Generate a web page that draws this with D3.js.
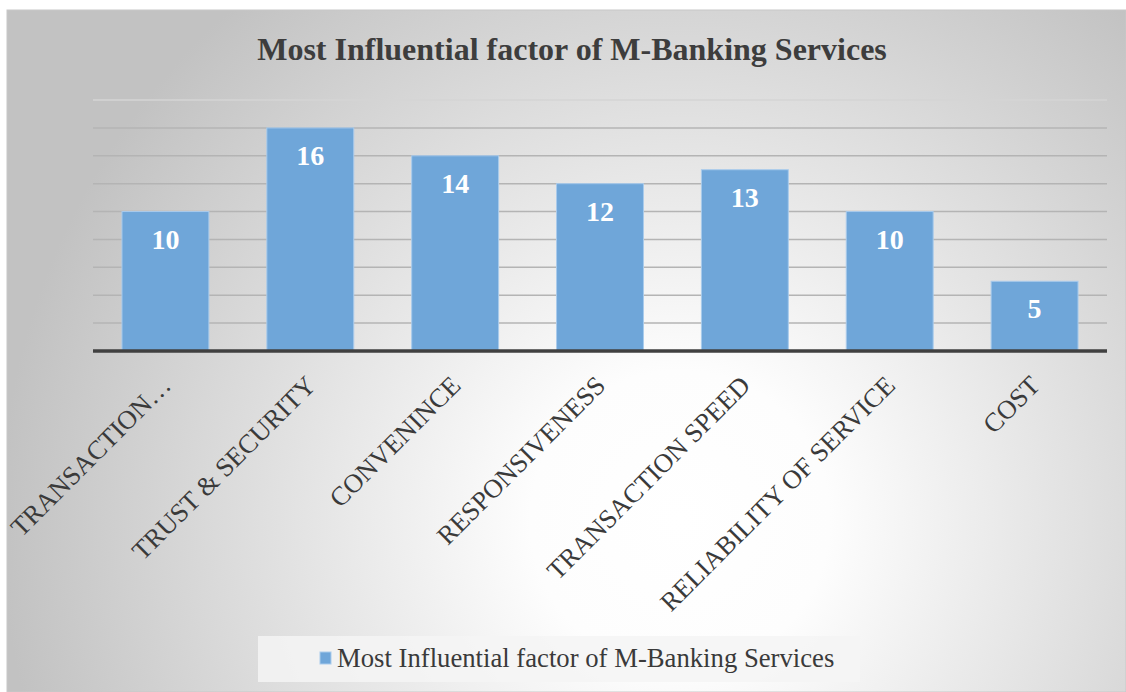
<!DOCTYPE html>
<html>
<head>
<meta charset="utf-8">
<script src="https://cdn.jsdelivr.net/npm/d3@7"></script>
<style>
  body { margin: 0; background: #fff; }
  svg { display: block; }
</style>
</head>
<body>
<script>
// chart data
var categories = ['TRANSACTION…', 'TRUST & SECURITY', 'CONVENINCE', 'RESPONSIVENESS',
                  'TRANSACTION SPEED', 'RELIABILITY OF SERVICE', 'COST'];
var values = [10, 16, 14, 12, 13, 10, 5];
var yTicks = [2, 4, 6, 8, 10, 12, 14, 16, 18];
var seriesName = 'Most Influential factor of M-Banking Services';
var title = 'Most Influential factor of M-Banking Services';

var W = 1126, H = 692;
var margin = {top: 100, right: 19, bottom: 341, left: 93},
    width = W - margin.left - margin.right,
    height = H - margin.top - margin.bottom;

var serif = "'Liberation Serif', 'Times New Roman', serif";

var svg = d3.select('body').append('svg')
  .attr('width', W)
  .attr('height', H);

// background gradient
var defs = svg.append('defs');
var grad = defs.append('radialGradient')
  .attr('id', 'bg')
  .attr('gradientUnits', 'userSpaceOnUse')
  .attr('cx', 680).attr('cy', 520).attr('r', 680);
grad.append('stop').attr('offset', '0%').attr('stop-color', '#ffffff');
grad.append('stop').attr('offset', '22%').attr('stop-color', '#fdfdfd');
grad.append('stop').attr('offset', '100%').attr('stop-color', '#c2c2c2');

svg.append('rect')
  .attr('x', 7).attr('y', 10)
  .attr('width', W - 7).attr('height', H - 10)
  .attr('fill', 'url(#bg)')
  .attr('stroke', '#c8c8c8');

// title
svg.append('text')
  .attr('x', 572).attr('y', 60)
  .attr('text-anchor', 'middle')
  .style('font-family', serif)
  .style('font-weight', 'bold')
  .style('font-size', '32px')
  .style('fill', '#3d3d3d')
  .text(title);

var g = svg.append('g')
  .attr('transform', 'translate(' + margin.left + ',' + margin.top + ')');

// scales
var x = d3.scaleBand()
  .domain(categories)
  .range([0, width])
  .paddingInner(0.4)
  .paddingOuter(0.2);

var y = d3.scaleLinear()
  .domain([0, 18])
  .range([height, 0]);

// gridlines
g.selectAll('.grid')
  .data(yTicks)
  .enter().append('line')
  .attr('class', 'grid')
  .attr('x1', 0).attr('x2', width)
  .attr('y1', function(d) { return y(d); })
  .attr('y2', function(d) { return y(d); })
  .attr('stroke', function(d) { return d === 18 ? '#d4d4d4' : '#b4b4b4'; })
  .attr('stroke-width', 1.5);

// bars
g.selectAll('.bar')
  .data(values)
  .enter().append('rect')
  .attr('class', 'bar')
  .attr('x', function(d, i) { return x(categories[i]); })
  .attr('y', function(d) { return y(d); })
  .attr('width', x.bandwidth())
  .attr('height', function(d) { return height - y(d); })
  .attr('fill', '#6fa6d9')
  .attr('stroke', '#a9cbec')
  .attr('stroke-width', 1);

// value labels
g.selectAll('.val')
  .data(values)
  .enter().append('text')
  .attr('class', 'val')
  .attr('x', function(d, i) { return x(categories[i]) + x.bandwidth() / 2; })
  .attr('y', function(d) { return y(d) + 37; })
  .attr('text-anchor', 'middle')
  .style('font-family', serif)
  .style('font-weight', 'bold')
  .style('font-size', '28px')
  .style('fill', '#ffffff')
  .text(function(d) { return d; });

// x axis line
g.append('line')
  .attr('x1', 0).attr('x2', width)
  .attr('y1', height).attr('y2', height)
  .attr('stroke', '#404040')
  .attr('stroke-width', 3.5);

// category labels, rotated
g.selectAll('.cat')
  .data(categories)
  .enter().append('text')
  .attr('class', 'cat')
  .attr('transform', function(d) {
    var cx = x(d) + x.bandwidth() / 2 + 7;
    return 'translate(' + cx + ',' + (height + 36) + ') rotate(-45)';
  })
  .attr('text-anchor', 'end')
  .style('font-family', serif)
  .style('font-size', '26.5px')
  .style('fill', '#3a3a3a')
  .text(function(d) { return d; });

// legend
var leg = svg.append('g');
leg.append('rect')
  .attr('x', 258).attr('y', 636)
  .attr('width', 602).attr('height', 46)
  .attr('fill', '#f4f4f4')
  .attr('opacity', 0.85);
leg.append('rect')
  .attr('x', 320).attr('y', 652)
  .attr('width', 11).attr('height', 12)
  .attr('fill', '#6fa6d9')
  .attr('stroke', '#a9cbec');
leg.append('text')
  .attr('x', 337).attr('y', 667)
  .style('font-family', serif)
  .style('font-size', '26.7px')
  .style('fill', '#3a3a3a')
  .text(seriesName);
</script>
</body>
</html>
